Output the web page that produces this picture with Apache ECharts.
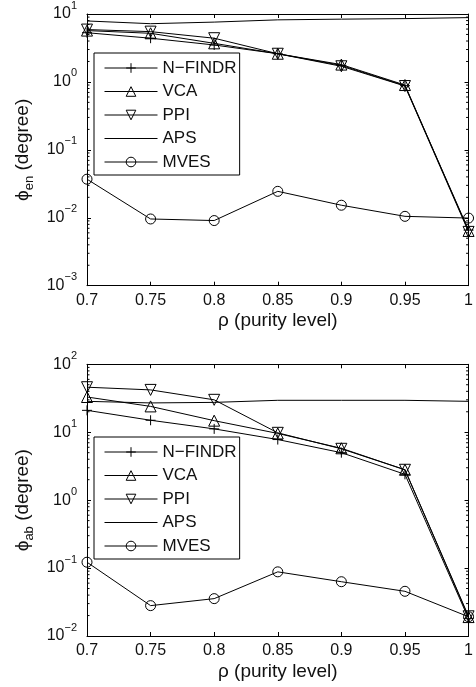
<!DOCTYPE html>
<html>
<head>
<meta charset="utf-8">
<script src="https://cdn.jsdelivr.net/npm/echarts@6/dist/echarts.min.js"></script>
<style>
  html, body { margin: 0; padding: 0; background: #fff; }
  #chart { width: 476px; height: 687px; }
</style>
</head>
<body>
<div id="chart"></div>
<script>
// purity levels
var rho = [0.7, 0.75, 0.8, 0.85, 0.9, 0.95, 1.0];
var names = ['N−FINDR', 'VCA', 'PPI', 'APS', 'MVES'];

// phi_en (degree)
var nfindrEn = [5.3, 4.4, 3.5, 2.6, 1.75, 0.88, 0.0066];
var vcaEn    = [5.7, 5.2, 3.7, 2.6, 1.8, 0.9, 0.0064];
var ppiEn    = [5.9, 5.5, 4.4, 2.6, 1.7, 0.87, 0.0062];
var apsEn    = [7.9, 7.2, 7.6, 8.2, 8.4, 8.55, 8.85];
var mvesEn   = [0.037, 0.0096, 0.0091, 0.0245, 0.0153, 0.0105, 0.0099];

// phi_ab (degree)
var nfindrAb = [21, 15, 11.2, 7.8, 5.0, 2.4, 0.018];
var vcaAb    = [33, 24, 14.8, 9.6, 5.8, 2.8, 0.019];
var ppiAb    = [46, 42, 30, 9.8, 5.7, 2.8, 0.0195];
var apsAb    = [28.5, 27, 27.5, 29.5, 29.5, 29.5, 28.5];
var mvesAb   = [0.122, 0.028, 0.0355, 0.088, 0.063, 0.0455, 0.0192];

// axis ranges / minor tick mantissas
var enRange = [0.001, 10];
var abRange = [0.01, 100];
var mantissa = [2, 3, 4, 5, 6, 7, 8, 9];

var FONT = "'Liberation Sans', Arial, sans-serif";
var BLACK = '#000';

function pairs(ys) {
  var out = [];
  for (var i = 0; i < rho.length; i++) out.push([rho[i], ys[i]]);
  return out;
}

function minorVals(range) {
  var out = [];
  var lo = Math.round(Math.log10(range[0])), hi = Math.round(Math.log10(range[1]));
  for (var e = lo; e < hi; e++) {
    for (var j = 0; j < mantissa.length; j++) out.push([mantissa[j] * Math.pow(10, e)]);
  }
  return out;
}

function logLabel(v) {
  var e = Math.round(Math.log10(v));
  return '{b|10}{s|' + String(e).replace('-', '−') + '}';
}

var richLog = {
  b: { fontSize: 16, fontFamily: FONT, color: '#111', lineHeight: 28 },
  s: { fontSize: 11, fontFamily: FONT, color: '#111', verticalAlign: 'top', lineHeight: 12 }
};

var plus = 'path://M5 0V10M0 5H10';

function makeSeries(gi, data) {
  var common = { type: 'line', xAxisIndex: gi * 2, yAxisIndex: gi * 2, z: 3,
    lineStyle: { color: BLACK, width: 1 },
    itemStyle: { color: 'rgba(0,0,0,0)', borderColor: BLACK, borderWidth: 1 } };
  var list = [
    { name: names[0], symbol: plus, symbolSize: 10, data: pairs(data[0]) },
    { name: names[1], symbol: 'triangle', symbolSize: 11, data: pairs(data[1]) },
    { name: names[2], symbol: 'triangle', symbolRotate: 180, symbolSize: 11, data: pairs(data[2]) },
    { name: names[3], symbol: 'none', data: pairs(data[3]) },
    { name: names[4], symbol: 'circle', symbolSize: 10, data: pairs(data[4]) }
  ];
  return list.map(function (s) { return Object.assign({}, common, s); });
}

function minorSeries(gi, range) {
  return {
    type: 'custom', xAxisIndex: gi * 2, yAxisIndex: gi * 2, silent: true, z: 2,
    data: minorVals(range),
    renderItem: function (params, api) {
      var v = api.value(0);
      var l = api.coord([rho[0], v]);
      var r = api.coord([rho[rho.length - 1], v]);
      return { type: 'group', children: [
        { type: 'line', shape: { x1: l[0], y1: l[1], x2: l[0] + 2.5, y2: l[1] }, style: { stroke: BLACK, lineWidth: 1 } },
        { type: 'line', shape: { x1: r[0], y1: r[1], x2: r[0] - 2.5, y2: r[1] }, style: { stroke: BLACK, lineWidth: 1 } }
      ] };
    }
  };
}

function xAxes(gi) {
  var base = { type: 'value', gridIndex: gi, min: 0.7, max: 1.0, interval: 0.05,
    axisLine: { lineStyle: { color: BLACK, width: 1 } },
    axisTick: { inside: true, length: 4, lineStyle: { color: BLACK } },
    splitLine: { show: false } };
  return [
    Object.assign({}, base, { position: 'bottom',
      axisLabel: { margin: 7, fontSize: 16, fontFamily: FONT, color: '#111',
        formatter: function (v) { return String(+v.toFixed(2)); } },
      name: 'ρ (purity level)', nameLocation: 'middle', nameGap: 26,
      nameTextStyle: { fontSize: 19, fontFamily: FONT, color: '#111' } }),
    Object.assign({}, base, { position: 'top', axisLabel: { show: false } })
  ];
}

function yAxes(gi, range, sub) {
  var base = { type: 'log', logBase: 10, gridIndex: gi, min: range[0], max: range[1],
    axisLine: { lineStyle: { color: BLACK, width: 1 } },
    axisTick: { inside: true, length: 4, lineStyle: { color: BLACK } },
    splitLine: { show: false } };
  return [
    Object.assign({}, base, { position: 'left',
      axisLabel: { margin: 10, formatter: logLabel, rich: richLog },
      name: '{a|ϕ}{b|' + sub + '}{a| (degree)}', nameLocation: 'middle', nameGap: 45, nameRotate: 90,
      nameTextStyle: { rich: {
        a: { fontSize: 19, fontFamily: FONT, color: '#111', lineHeight: 26 },
        b: { fontSize: 13, fontFamily: FONT, color: '#111', lineHeight: 13, verticalAlign: 'bottom' }
      } } }),
    Object.assign({}, base, { position: 'right', axisLabel: { show: false } })
  ];
}

function legendAt(top) {
  var data = names.map(function (n) {
    return n === 'APS' ? { name: n, itemStyle: { opacity: 0 } } : { name: n };
  });
  return {
    data: data, orient: 'vertical', left: 94, top: top,
    padding: [6, 3, 4, 10], itemGap: 5.5, itemWidth: 53, itemHeight: 12,
    backgroundColor: '#fff', borderColor: BLACK, borderWidth: 1, borderRadius: 0,
    lineStyle: { width: 1, color: BLACK },
    itemStyle: { borderWidth: 1, borderColor: BLACK, color: 'rgba(0,0,0,0)' },
    textStyle: { fontSize: 17, fontFamily: FONT, color: '#111', lineHeight: 18, padding: [0, 0, 0, 0] },
    selectedMode: false, z: 10
  };
}

var chart = echarts.init(document.getElementById('chart'), null, { renderer: 'canvas' });

var option = {
  animation: false,
  backgroundColor: '#fff',
  grid: [
    { left: 87, right: 0.5, top: 13.7, height: 272 },
    { left: 87, right: 0.5, top: 364.3, height: 271.7 }
  ],
  legend: [legendAt(53), legendAt(437)],
  xAxis: xAxes(0).concat(xAxes(1)),
  yAxis: yAxes(0, enRange, 'en').concat(yAxes(1, abRange, 'ab')),
  series: makeSeries(0, [nfindrEn, vcaEn, ppiEn, apsEn, mvesEn])
    .concat(makeSeries(1, [nfindrAb, vcaAb, ppiAb, apsAb, mvesAb]))
    .concat([minorSeries(0, enRange), minorSeries(1, abRange)])
};

chart.setOption(option);
</script>
</body>
</html>
